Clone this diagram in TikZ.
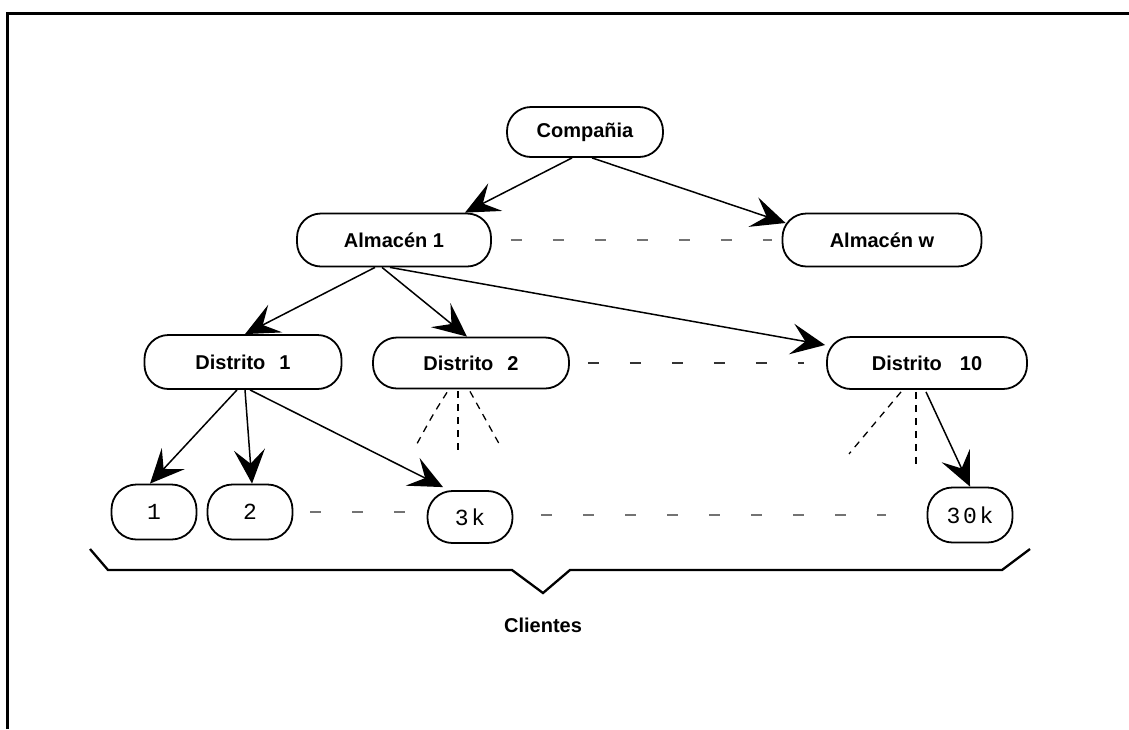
\documentclass[tikz,border=0pt]{standalone}
\usepackage{fontspec}
\setmainfont{Liberation Sans}
\newfontfamily\leaffont[LetterSpace=12]{Liberation Mono}
\usetikzlibrary{arrows.meta,calc}

\begin{document}
\begin{tikzpicture}[x=1pt,y=-1pt,
  box/.style={draw, line width=1.8pt, rounded corners=24pt, inner sep=0pt,
    font=\fontsize{20}{22}\selectfont\bfseries},
  leaf/.style={draw, line width=1.8pt, rounded corners=25pt, inner sep=0pt,
    minimum width=85pt, font=\fontsize{23}{24}\selectfont\leaffont},
  link/.style={line width=1.5pt, -{Stealth[length=34pt,width=31pt,inset=14pt]}},
  gap/.style={line width=2pt, black!55, dash pattern=on 11pt off 31pt},
  fan/.style={line width=1.3pt, dash pattern=on 7pt off 6pt},
  frame/.style={line width=3pt}]

\path[use as bounding box] (0,0) rectangle (1129,729);

% open frame: top and left edges only
\draw[frame] (7,729) -- (7,13) -- (1129,13);

% hierarchy
\node[box, minimum width=156pt, minimum height=50pt] (comp) at (585,132) {Compañia};
\node[box, minimum width=194pt, minimum height=53pt] (alm1) at (394,240) {Almacén 1};
\node[box, minimum width=199pt, minimum height=53pt] (almw) at (882,240) {Almacén w};
\node[box, minimum width=197pt, minimum height=54pt] (d1) at (243,362) {Distrito\hspace{14pt}1};
\node[box, minimum width=196pt, minimum height=51pt] (d2) at (471,363) {Distrito\hspace{14pt}2};
\node[box, minimum width=200pt, minimum height=52pt] (d10) at (927,363) {Distrito\hspace{18pt}10};

\node[leaf, minimum height=55pt] (c1) at (154,512) {1};
\node[leaf, minimum height=55pt] (c2) at (250,512) {2};
\node[leaf, minimum height=52pt] (c3k) at (470,517) {3k};
\node[leaf, minimum height=55pt] (c30k) at (970,515) {30k};

% arrows
\draw[link] ($(comp.south)+(-13,0)$) -- ($(alm1.north)+(71,0)$);
\draw[link] ($(comp.south)+(7,0)$) -- ($(almw.west)+(4,-17)$);
\draw[link] ($(alm1.south)+(-19,0)$) -- ($(d1.north)+(2,0)$);
\draw[link] ($(alm1.south)+(-12,0)$) -- ($(d2.north)+(-4,0)$);
\draw[link] ($(alm1.south)+(-4,0)$) -- ($(d10.west)+(-1,-18)$);
\draw[link] ($(d1.south)+(-6,0)$) -- ($(c1.north)+(-4,0)$);
\draw[link] ($(d1.south)+(2,0)$) -- ($(c2.north)+(2,0)$);
\draw[link] ($(d1.south)+(7,0)$) -- ($(c3k.north)+(-27,-3)$);
\draw[link] ($(d10.south)+(-1,2)$) -- ($(c30k.north)+(0,0)$);

% elided siblings
\draw[gap] ($(alm1.east)+(19,0)$) -- ($(almw.west)+(-10,0)$);
\draw[gap, black!80] ($(d2.east)+(18,0)$) -- ($(d10.west)+(-22,0)$);
\draw[gap] ($(c2.east)+(17,0)$) -- ($(c3k.west)+(-22,-5)$);
\draw[gap] ($(c3k.east)+(28,-2)$) -- ($(c30k.west)+(-41,0)$);

% unexpanded children
\draw[fan] ($(d2.south)+(-24,3)$) .. controls ($(d2.south)+(-38,25)$) .. ($(d2.south)+(-56,58)$);
\draw[fan] ($(d2.south)+(-13,2)$) -- ($(d2.south)+(-13,61)$);
\draw[fan] ($(d2.south)+(-1,2)$) -- ($(d2.south)+(29,56)$);
\draw[fan] ($(d10.south)+(-26,2)$) -- ($(d10.south)+(-78,64)$);
\draw[fan] ($(d10.south)+(-11,2)$) -- ($(d10.south)+(-11,76)$);

% brace over the customers
\draw[line width=2.3pt, line join=miter]
  (90,549) -- (108,570) -- (512,570) -- (543,593) -- (570,570) -- (1002,570) -- (1030,549);
\node[font=\fontsize{20}{22}\selectfont\bfseries] (cli) at (543,625) {Clientes};

\end{tikzpicture}
\end{document}
